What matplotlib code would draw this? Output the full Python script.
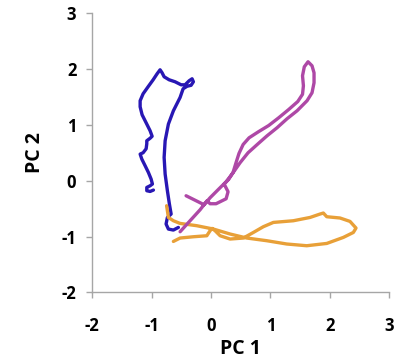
import matplotlib
matplotlib.use("Agg")
import matplotlib.pyplot as plt

# Trajectories in principal-component space (PC 1, PC 2)
blue_pc1 = [-0.971, -1.027, -1.083, -1.083, -1.027, -0.988, -1.010, -1.056, -1.111, -1.167,
            -1.195, -1.145, -1.094, -1.083, -1.083, -1.027, -0.993, -1.027, -1.094, -1.162,
            -1.195, -1.195, -1.145, -1.061, -0.976, -0.909, -0.859, -0.825, -0.791, -0.707,
            -0.606, -0.505, -0.438, -0.370, -0.320, -0.298, -0.337, -0.404, -0.471, -0.522,
            -0.635, -0.719, -0.774, -0.791, -0.774, -0.736, -0.702, -0.673, -0.736, -0.758,
            -0.719, -0.635, -0.551]
blue_pc2 = [-0.167, -0.192, -0.179, -0.120, -0.090, -0.059, 0.030, 0.149, 0.269, 0.389,
            0.478, 0.502, 0.573, 0.663, 0.717, 0.762, 0.797, 0.896, 1.039, 1.183,
            1.326, 1.434, 1.559, 1.685, 1.810, 1.918, 1.989, 1.935, 1.864, 1.810,
            1.774, 1.720, 1.720, 1.792, 1.828, 1.774, 1.711, 1.694, 1.649, 1.493,
            1.254, 1.016, 0.717, 0.418, 0.120, -0.179, -0.418, -0.597, -0.658, -0.776,
            -0.866, -0.884, -0.837]

magenta_pc1 = [-0.522, -0.354, -0.185, -0.067, -0.017, 0.084, 0.253, 0.286, 0.220, 0.300,
               0.370, 0.420, 0.470, 0.540, 0.640, 0.800, 0.970, 1.140, 1.305, 1.460,
               1.540, 1.555, 1.540, 1.570, 1.633, 1.700, 1.734, 1.734, 1.700, 1.616,
               1.448, 1.279, 1.111, 0.943, 0.791, 0.623, 0.488, 0.370, 0.253, 0.118,
               -0.017, -0.118, -0.219, -0.421]
magenta_pc2 = [-0.914, -0.717, -0.520, -0.358, -0.412, -0.412, -0.323, -0.197, -0.060, 0.030,
               0.150, 0.323, 0.490, 0.650, 0.770, 0.880, 0.990, 1.130, 1.275, 1.420,
               1.550, 1.703, 1.882, 2.043, 2.133, 2.061, 1.935, 1.756, 1.577, 1.434,
               1.254, 1.111, 0.950, 0.806, 0.663, 0.502, 0.323, 0.143, -0.018, -0.161,
               -0.305, -0.430, -0.376, -0.269]

orange_pc1 = [-0.635, -0.522, -0.298, -0.072, -0.017, 0.017, 0.067, 0.152, 0.320, 0.544,
              0.712, 0.880, 1.049, 1.386, 1.667, 1.835, 1.891, 1.948, 2.172, 2.340,
              2.441, 2.396, 2.227, 1.948, 1.611, 1.274, 0.938, 0.601, 0.320, 0.039,
              -0.241, -0.522, -0.635, -0.719, -0.736, -0.749]
orange_pc2 = [-1.088, -1.027, -1.004, -0.986, -0.896, -0.855, -0.896, -0.986, -1.045, -1.027,
              -0.927, -0.824, -0.747, -0.717, -0.658, -0.597, -0.579, -0.645, -0.668, -0.729,
              -0.848, -0.927, -1.016, -1.124, -1.165, -1.134, -1.075, -1.027, -0.955, -0.866,
              -0.806, -0.765, -0.717, -0.658, -0.538, -0.448]

x_ticks = [-2, -1, 0, 1, 2, 3]
y_ticks = [-2, -1, 0, 1, 2, 3]

plt.rcParams['font.family'] = ['Open Sans', 'DejaVu Sans']

fig = plt.figure(figsize=(4.05, 3.62), dpi=100)
ax = fig.add_axes([0.228, 0.1925, 0.733, 0.7705])

lw = 2.4
ax.plot(blue_pc1, blue_pc2, color='#2817B4', lw=lw, solid_capstyle='round', solid_joinstyle='round')
ax.plot(orange_pc1, orange_pc2, color='#E8A038', lw=lw, solid_capstyle='round', solid_joinstyle='round')
ax.plot(magenta_pc1, magenta_pc2, color='#AE48A6', lw=lw, solid_capstyle='round', solid_joinstyle='round')

ax.set_xlim(-2, 3)
ax.set_ylim(-2, 3)
ax.set_xticks(x_ticks)
ax.set_yticks(y_ticks)
ax.set_xticklabels([str(v) for v in x_ticks], fontsize=12, fontweight='bold')
ax.set_yticklabels([str(v) for v in y_ticks], fontsize=12, fontweight='bold')

for side in ('top', 'right'):
    ax.spines[side].set_visible(False)
for side in ('left', 'bottom'):
    ax.spines[side].set_color('#A6A6A6')
    ax.spines[side].set_linewidth(1.0)
ax.tick_params(axis='both', direction='out', length=4.5, width=1.0, color='#A6A6A6')
ax.tick_params(axis='x', pad=13)
ax.tick_params(axis='y', pad=7)

ax.set_xlabel('PC 1', fontsize=14, fontweight='bold', labelpad=3)
ax.set_ylabel('PC 2', fontsize=14, fontweight='bold', labelpad=12)

fig.savefig('out.png', dpi=100, facecolor='white')
